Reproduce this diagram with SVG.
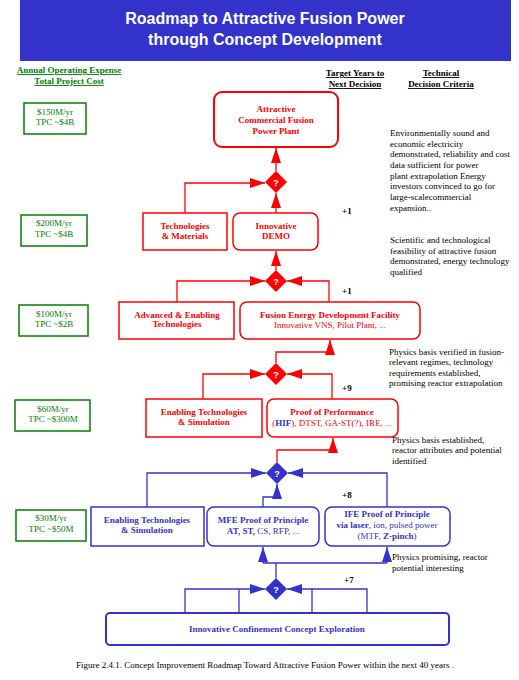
<svg xmlns="http://www.w3.org/2000/svg" width="519" height="680" viewBox="0 0 519 680">
<style>
text{font-family:"Liberation Serif","Times New Roman",serif;font-size:9px}
.b{font-weight:bold}
.c{text-anchor:middle}
.title{font-family:"Liberation Sans",Arial,sans-serif;font-weight:bold;font-size:16px;fill:#fff;text-anchor:middle}
.g{fill:#008000}
.r{fill:#ff0000}
.bl{fill:#3333cc}
.gbox{fill:none;stroke:#008000;stroke-width:1.5}
.rbox{fill:#fff;stroke:#ff0000;stroke-width:1.5}
.bbox{fill:#fff;stroke:#3333cc;stroke-width:1.5}
.rl{fill:none;stroke:#ff0000;stroke-width:1.3}
.bln{fill:none;stroke:#3333cc;stroke-width:1.3}
.q{font-family:"Liberation Sans",Arial,sans-serif;font-weight:bold;font-size:9px;fill:#fff;text-anchor:middle}
.ul{stroke-width:1}
</style>
<defs>
<marker id="ar" markerUnits="userSpaceOnUse" markerWidth="15" markerHeight="11" viewBox="0 0 15 11" refX="15" refY="5.5" orient="auto"><path d="M0,0.5 L15,5.5 L0,10.5 Z" fill="#ff0000"/></marker>
<marker id="ab" markerUnits="userSpaceOnUse" markerWidth="15" markerHeight="11" viewBox="0 0 15 11" refX="15" refY="5.5" orient="auto"><path d="M0,0.5 L15,5.5 L0,10.5 Z" fill="#3333cc"/></marker>
</defs>
<rect width="519" height="680" fill="#fff"/>
<g id="title">
<rect x="20" y="0" width="491" height="61" fill="#3333cc"/>
<text class="title" x="265" y="24">Roadmap to Attractive Fusion Power</text>
<text class="title" x="265" y="45">through Concept Development</text>
</g>
<g id="headers">
<text class="b c g" x="69" y="73" text-decoration="underline">Annual Operating Expense</text>
<text class="b c g" x="69" y="84" text-decoration="underline">Total Project Cost</text>
<text class="b c" x="355" y="76" text-decoration="underline">Target Years to</text>
<text class="b c" x="355" y="87" text-decoration="underline">Next Decision</text>
<text class="b c" x="441" y="76" text-decoration="underline">Technical</text>
<text class="b c" x="441" y="87" text-decoration="underline">Decision Criteria</text>
</g>
<g id="costs">
<g id="cost1"><rect class="gbox" x="24" y="103" width="62" height="31"/><text class="c g" x="55" y="115">$150M/yr</text><text class="c g" x="55" y="125">TPC ~$4B</text></g>
<g id="cost2"><rect class="gbox" x="21" y="215" width="66" height="31"/><text class="c g" x="54" y="226">$200M/yr</text><text class="c g" x="54" y="237">TPC ~$4B</text></g>
<g id="cost3"><rect class="gbox" x="19" y="305" width="69" height="31"/><text class="c g" x="54" y="317">$100M/yr</text><text class="c g" x="54" y="327">TPC ~$2B</text></g>
<g id="cost4"><rect class="gbox" x="15" y="400" width="75" height="31"/><text class="c g" x="53" y="412">$60M/yr</text><text class="c g" x="53" y="422">TPC ~$300M</text></g>
<g id="cost5"><rect class="gbox" x="16" y="510" width="70" height="31"/><text class="c g" x="51" y="521">$30M/yr</text><text class="c g" x="51" y="532">TPC ~$50M</text></g>
</g>
<g id="connectors">
<line class="rl" x1="276" y1="171" x2="276" y2="148" marker-end="url(#ar)"/>
<line class="rl" x1="276" y1="213" x2="276" y2="193" marker-end="url(#ar)"/>
<path class="rl" d="M185,213 V183 H265" marker-end="url(#ar)"/>
<line class="rl" x1="276" y1="270" x2="276" y2="251" marker-end="url(#ar)"/>
<path class="rl" d="M177,302 V281 H265" marker-end="url(#ar)"/>
<path class="rl" d="M329,302 V281 H287" marker-end="url(#ar)"/>
<path class="rl" d="M276,363 V352 H330 V340" marker-end="url(#ar)"/>
<path class="rl" d="M203,399 V374 H265" marker-end="url(#ar)"/>
<path class="rl" d="M332,399 V374 H287" marker-end="url(#ar)"/>
<path class="rl" d="M277,462 V450 H333 V438" marker-end="url(#ar)"/>
<path class="bln" d="M147,507 V473 H266" marker-end="url(#ab)"/>
<path class="bln" d="M387,507 V473 H288" marker-end="url(#ab)"/>
<path class="bln" d="M263,507 V497 H277 V484" marker-end="url(#ab)"/>
<path class="bln" d="M276,578 V563 M263,563 H387"/>
<line class="bln" x1="263" y1="563" x2="263" y2="547" marker-end="url(#ab)"/>
<line class="bln" x1="387" y1="563" x2="387" y2="547" marker-end="url(#ab)"/>
<path class="bln" d="M185,613 V589 H265" marker-end="url(#ab)"/>
<path class="bln" d="M239,613 V589"/>
<path class="bln" d="M367,613 V589 H287" marker-end="url(#ab)"/>
<path class="bln" d="M312,613 V589"/>
</g>
<g id="decisions">
<g id="d1"><path d="M276,171 L287,182 L276,193 L265,182 Z" fill="#ff0000"/><text class="q" x="276" y="185.5">?</text></g>
<g id="d2"><path d="M276,270 L287,281 L276,292 L265,281 Z" fill="#ff0000"/><text class="q" x="276" y="284.5">?</text></g>
<g id="d3"><path d="M276,363 L287,374 L276,385 L265,374 Z" fill="#ff0000"/><text class="q" x="276" y="377.5">?</text></g>
<g id="d4"><path d="M277,462 L288,473 L277,484 L266,473 Z" fill="#3333cc"/><text class="q" x="277" y="476.5">?</text></g>
<g id="d5"><path d="M276,578 L287,589 L276,600 L265,589 Z" fill="#3333cc"/><text class="q" x="276" y="592.5">?</text></g>
</g>
<g id="plant"><rect x="214" y="92" width="124" height="55" rx="8" fill="#fff" stroke="#ff0000" stroke-width="2"/>
<text class="b c r" x="276" y="112">Attractive</text><text class="b c r" x="276" y="123">Commercial Fusion</text><text class="b c r" x="276" y="134">Power Plant</text></g>
<g id="techmat"><rect class="rbox" x="143" y="213" width="84" height="37"/><text class="b c r" x="185" y="229">Technologies</text><text class="b c r" x="185" y="239">&amp; Materials</text></g>
<g id="demo"><rect class="rbox" x="233" y="213" width="85" height="37" rx="7"/><text class="b c r" x="276" y="229">Innovative</text><text class="b c r" x="276" y="239">DEMO</text></g>
<g id="advanced"><rect class="rbox" x="119" y="302" width="115" height="37"/><text class="b c r" x="177" y="318">Advanced &amp; Enabling</text><text class="b c r" x="177" y="327">Technologies</text></g>
<g id="fedf"><rect class="rbox" x="240" y="302" width="180" height="37" rx="7"/><text class="b c r" x="330" y="318">Fusion Energy Development Facility</text><text class="c r" x="330" y="328">Innovative VNS, Pilot Plant, ...</text></g>
<g id="enabling-red"><rect class="rbox" x="146" y="399" width="116" height="38"/><text class="b c r" x="204" y="415">Enabling Technologies</text><text class="b c r" x="204" y="425">&amp; Simulation</text></g>
<g id="pop"><rect class="rbox" x="267" y="399" width="131" height="38" rx="7"/><text class="b c r" x="332" y="415">Proof of Performance</text><text class="c r" x="332" y="426">(<tspan class="b bl">HIF</tspan>), DTST, GA-ST(?), IRE, ...</text></g>
<g id="enabling-blue"><rect class="bbox" x="91" y="507" width="113" height="39"/><text class="b c bl" x="147" y="523">Enabling Technologies</text><text class="b c bl" x="147" y="533">&amp; Simulation</text></g>
<g id="mfe"><rect class="bbox" x="207" y="507" width="112" height="39" rx="7"/><text class="b c bl" x="263" y="523">MFE Proof of Principle</text><text class="c bl" x="263" y="534"><tspan class="b">AT, ST,</tspan> CS, RFP, ...</text></g>
<g id="ife"><rect class="bbox" x="325" y="507" width="125" height="39" rx="7"/><text class="b c bl" x="387" y="517">IFE Proof of Principle</text><text class="c bl" x="387" y="528"><tspan class="b">via laser</tspan>, ion, pulsed power</text><text class="c bl" x="387" y="539">(MTF, <tspan class="b">Z-pinch</tspan>)</text></g>
<g id="icce"><rect x="106" y="613" width="343" height="32" rx="4" fill="#fff" stroke="#3333cc" stroke-width="2"/><text class="b c bl" x="277" y="632">Innovative Confinement Concept Exploration</text></g>
<g id="years">
<text class="b" x="342" y="214">+1</text>
<text class="b" x="342" y="294">+1</text>
<text class="b" x="342" y="391">+9</text>
<text class="b" x="342" y="498">+8</text>
<text class="b" x="344" y="583">+7</text>
</g>
<g id="criteria">
<text x="390" y="136">Environmentally sound and</text>
<text x="390" y="146.7">economic electricity</text>
<text x="390" y="157.3">demonstrated, reliability and cost</text>
<text x="390" y="168">data sufficient for power</text>
<text x="390" y="178.7">plant extrapolation Energy</text>
<text x="390" y="189.3">investors convinced to go for</text>
<text x="390" y="200">large-scalecommercial</text>
<text x="390" y="210.7">expansion..</text>
<text x="390" y="243">Scientific and technological</text>
<text x="390" y="253.5">feasibility of attractive fusion</text>
<text x="390" y="264">demonstrated, energy technology</text>
<text x="390" y="274.5">qualified</text>
<text x="389" y="354.5">Physics basis verified in fusion-</text>
<text x="389" y="365">relevant regimes, technology</text>
<text x="389" y="375.7">requirements established,</text>
<text x="389" y="386.3">promising reactor extrapolation</text>
<text x="392" y="442.7">Physics basis established,</text>
<text x="392" y="453.3">reactor attributes and potential</text>
<text x="392" y="464">identified</text>
<text x="392" y="560">Physics promising, reactor</text>
<text x="392" y="570.5">potential interesting</text>
</g>
<text class="c" x="265" y="668">Figure 2.4.1. Concept Improvement Roadmap Toward Attractive Fusion Power within the next 40 years .</text>
</svg>
